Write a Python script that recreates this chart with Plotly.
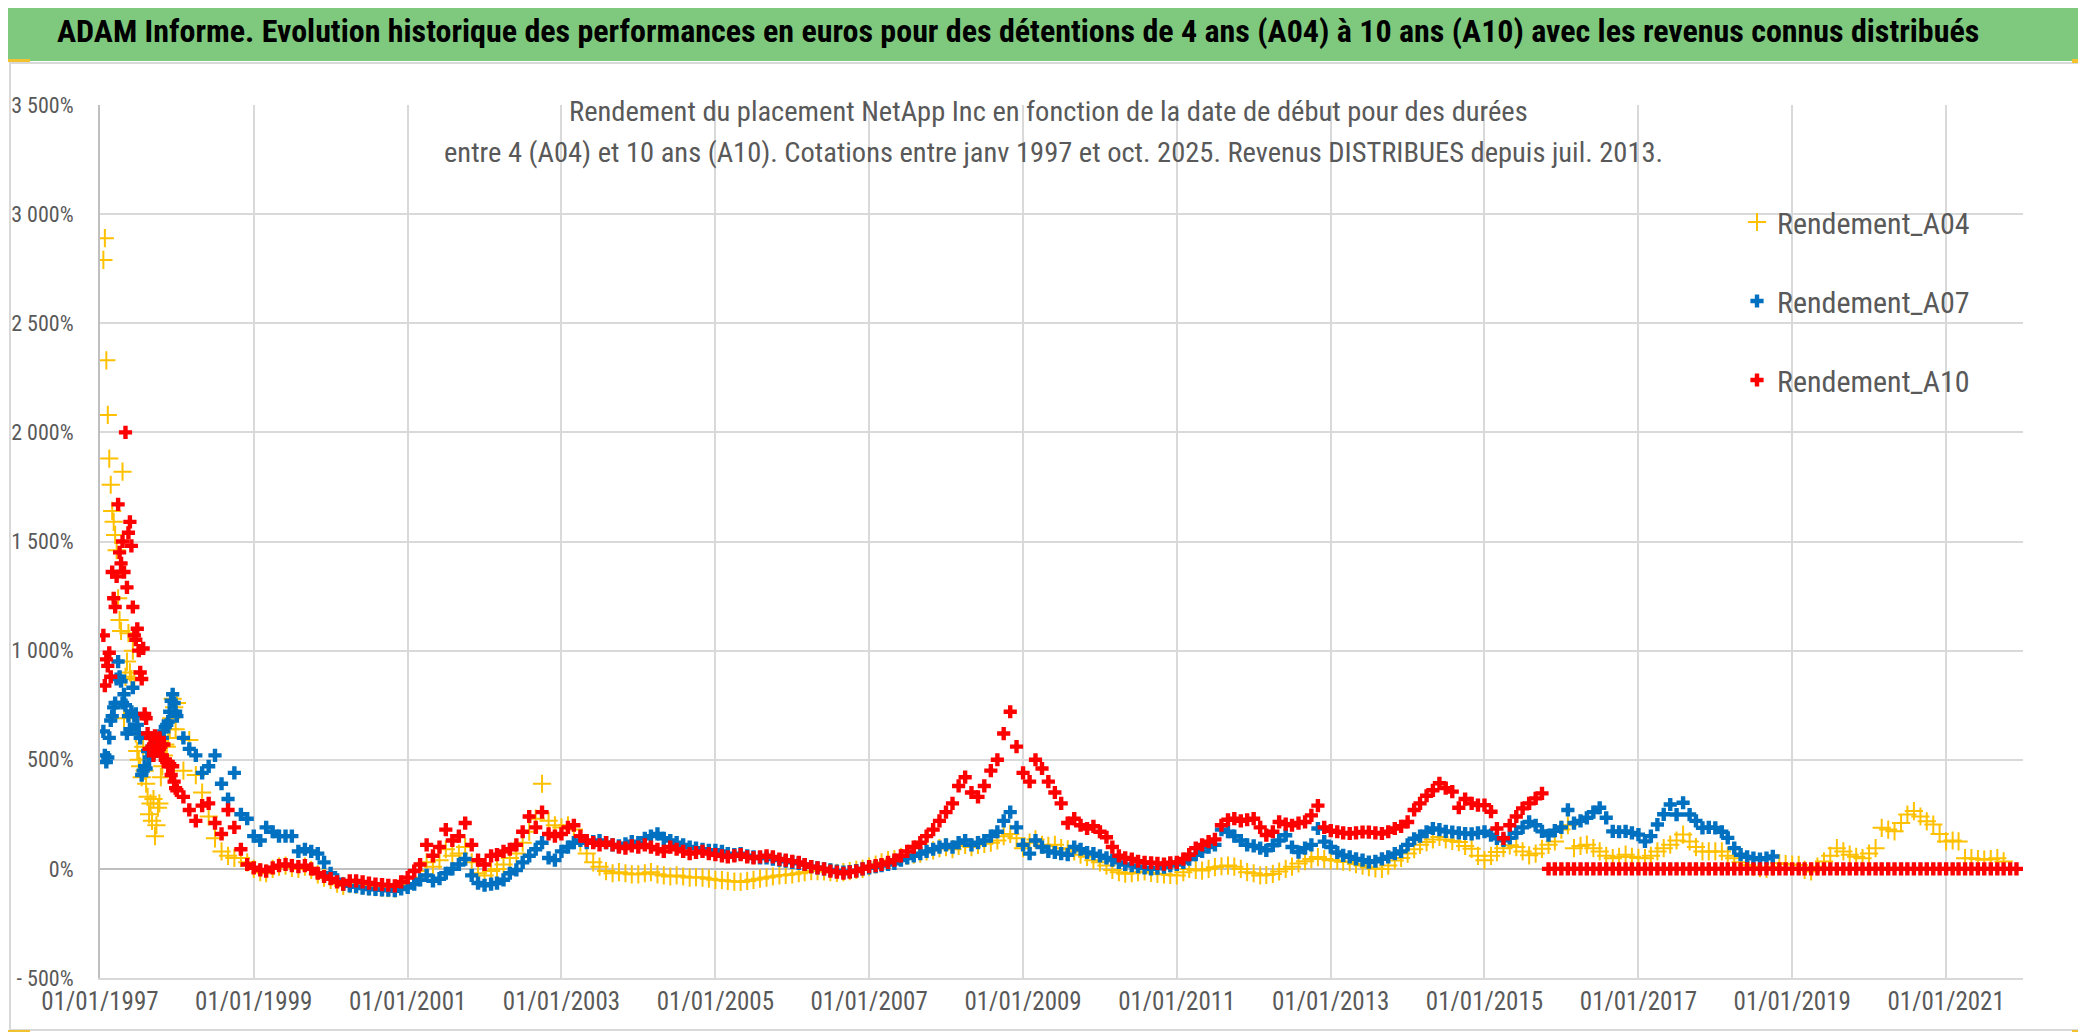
import pandas as pd
import plotly.graph_objects as go

# ---------------- data (values in %) ----------------
SERIES_NAMES = ["Rendement_A04", "Rendement_A07", "Rendement_A10"]

# weekly points during 1997 (start 1997-01-17, every 7 days)
WEEK_START = "1997-01-17"
A04_1997 = [2790, 2890, 2330, 2080, 1880, 1760, 1640, 1590, 1530, 1460,
            1240, 1140, 1090, 1820, 690, 880, 950, 1080, 900, 870,
            1000, 870, 620, 540, 500, 470, 420, 560, 450, 390,
            330, 250, 300, 220, 320, 150, 200, 280, 300, 420,
            470, 520, 570, 560, 600, 640, 690, 780, 740, 640]
A07_1997 = [630, 520, 490, 510, 600, 680, 700, 740, 760, 870,
            950, 880, 860, 760, 800, 750, 620, 700, 640, 720,
            830, 700, 710, 660, 620, 600, 430, 450, 470, 460,
            540, 510, 540, 520, 540, 550, 540, 550, 560, 570,
            600, 630, 650, 660, 675, 720, 770, 800, 760, 720]
A10_1997 = [1070, 840, 960, 930, 990, 880, 1360, 1240, 1200, 1340,
            1670, 1450, 1400, 1500, 1360, 2000, 1290, 1540, 1590, 1480,
            1200, 1070, 1050, 1100, 1000, 900, 870, 1010, 710, 690,
            620, 550, 600, 560, 520, 610, 590, 540, 600, 560,
            520, 570, 500, 490, 470, 480, 430, 470, 400, 370]

# monthly points from 1998-01 (first day of each month)
MONTH_START = "1998-01-01"
A04_MONTHLY = [
    760, 450, 590, 430, 350, 240, 140, 80, 60, 50, 50, 30,            # 1998
    0, -15, -20, 0, 10, 15, 5, 0, 10, -5, -25, -40,                  # 1999
    -50, -68, -78, -70, -72, -76, -80, -84, -86, -88, -90, -75,      # 2000
    -70, -40, -10, 30, 10, 40, 90, 60, 70, 100, 30, -20,             # 2001
    -30, -10, 0, 20, 50, 70, 120, 170, 230, 390, 220, 200,           # 2002
    190, 200, 180, 120, 70, 30, 10, -10, -20, -15, -20, -25,         # 2003
    -25, -20, -15, -25, -30, -35, -30, -35, -40, -38, -40, -45,      # 2004
    -50, -52, -55, -58, -60, -55, -50, -45, -40, -35, -30, -28,      # 2005
    -25, -20, -15, -10, -10, -12, -15, -18, -15, -10, -5, 0,         # 2006
    10, 20, 30, 40, 45, 55, 60, 65, 70, 80, 85, 95,                  # 2007
    100, 90, 105, 110, 100, 110, 115, 120, 130, 150, 160, 140,       # 2008
    95, 120, 135, 110, 105, 110, 95, 90, 80, 65, 55, 40,             # 2009
    30, 15, -5, -15, -22, -20, -15, -12, -18, -23, -25, -28,         # 2010
    -30, -15, 0, -5, -8, 0, 8, 12, 15, 10, 0, -15,                   # 2011
    -20, -30, -28, -23, -12, 0, 10, 25, 35, 45, 54, 45,              # 2012
    40, 38, 33, 31, 22, 15, 8, 2, 0, 15, 38, 50,                     # 2013
    70, 90, 110, 123, 135, 146, 135, 128, 123, 105, 92, 60,          # 2014
    40, 60, 77, 95, 108, 100, 80, 62, 70, 92, 110, 126,              # 2015
    180, 200, 95, 105, 111, 95, 80, 60, 49, 55, 65, 55,              # 2016
    50, 49, 60, 80, 95, 111, 130, 157, 126, 100, 80, 80,             # 2017
    80, 80, 60, 49, 30, 18, 10, 3, 0, 10, 26, 22,                    # 2018
    20, 18, -5, -12, 10, 34, 60, 95, 80, 65, 55, 49,                 # 2019
    70, 95, 188, 180, 172, 210, 249, 265, 240, 218, 203, 160,        # 2020
    126, 130, 126, 49, 49, 45, 42, 45, 49, 34,                       # 2021
]
A07_MONTHLY = [
    700, 600, 550, 520, 440, 470, 520, 390, 320, 440, 250, 230,      # 1998
    150, 130, 190, 170, 150, 150, 150, 80, 90, 80, 70, 30,           # 1999
    -20, -50, -70, -78, -82, -88, -92, -94, -96, -98, -100, -92,     # 2000
    -85, -70, -50, -30, -55, -45, -20, 0, 20, 45, -30, -65,          # 2001
    -75, -70, -65, -50, -20, -5, 30, 60, 90, 120, 50, 40,            # 2002
    80, 100, 120, 130, 120, 125, 130, 120, 110, 105, 115, 125,       # 2003
    120, 140, 150, 160, 140, 130, 120, 110, 100, 95, 90, 85,         # 2004
    85, 80, 70, 65, 70, 60, 55, 50, 50, 45, 40, 35,                  # 2005
    30, 25, 20, 10, 5, 0, -5, -10, -15, -12, -8, 0,                  # 2006
    5, 10, 15, 20, 25, 40, 50, 60, 70, 80, 90, 100,                  # 2007
    110, 100, 120, 130, 110, 120, 130, 150, 170, 220, 260, 190,      # 2008
    110, 70, 130, 100, 80, 75, 70, 65, 100, 90, 75, 70,              # 2009
    60, 50, 40, 30, 20, 15, 10, 5, 0, 3, 8, 15,                      # 2010
    20, 30, 45, 65, 80, 100, 110, 180, 170, 150, 130, 110,           # 2011
    105, 95, 85, 108, 130, 154, 100, 77, 95, 110, 185, 125,          # 2012
    100, 75, 62, 55, 46, 40, 31, 35, 46, 55, 70, 80,                 # 2013
    110, 138, 150, 170, 185, 180, 172, 169, 165, 162, 160, 165,      # 2014
    170, 155, 140, 131, 142, 165, 190, 215, 200, 172, 154, 175,      # 2015
    190, 270, 210, 220, 234, 260, 280, 234, 172, 170, 172, 165,      # 2016
    157, 126, 150, 203, 250, 295, 249, 303, 249, 220, 188, 190,      # 2017
    188, 170, 142, 95, 65, 55, 49, 45, 49, 57,                       # 2018
]
A10_MONTHLY = [
    360, 330, 270, 220, 290, 300, 210, 160, 270, 190, 90, 20,        # 1998
    5, -5, -10, 5, 15, 20, 15, 10, 15, 0, -20, -35,                  # 1999
    -45, -60, -70, -55, -55, -60, -65, -70, -72, -75, -78, -60,      # 2000
    -40, -10, 20, 110, 60, 100, 180, 130, 150, 210, 110, 40,         # 2001
    20, 60, 65, 80, 90, 110, 170, 240, 190, 260, 160, 150,           # 2002
    160, 190, 200, 150, 130, 120, 110, 120, 110, 100, 95, 105,       # 2003
    100, 110, 100, 90, 80, 100, 90, 80, 70, 75, 80, 70,              # 2004
    65, 60, 55, 60, 65, 55, 50, 55, 60, 55, 45, 40,                  # 2005
    35, 30, 20, 10, 5, 0, -10, -15, -20, -15, -10, 0,                # 2006
    10, 15, 20, 30, 40, 60, 80, 100, 120, 150, 180, 220,             # 2007
    260, 300, 380, 420, 350, 330, 380, 450, 500, 620, 720, 560,      # 2008
    440, 400, 500, 460, 400, 350, 300, 210, 230, 200, 185, 195,      # 2009
    170, 145, 100, 60, 50, 45, 35, 30, 28, 25, 22, 28,               # 2010
    30, 45, 65, 95, 110, 125, 135, 200, 225, 230, 220, 225,          # 2011
    230, 190, 155, 170, 215, 205, 200, 210, 215, 245, 290, 190,      # 2012
    175, 170, 165, 162, 165, 169, 168, 165, 162, 170, 185, 195,      # 2013
    215, 270, 300, 335, 360, 392, 370, 354, 280, 320, 300, 292,      # 2014
    292, 262, 185, 140, 200, 240, 277, 300, 323, 346,                # 2015 (Jan-Oct)
    # Nov 2015 -> Dec 2021 : plotted at 0
    0, 0,
    0, 0, 0, 0, 0, 0, 0, 0, 0, 0, 0, 0,
    0, 0, 0, 0, 0, 0, 0, 0, 0, 0, 0, 0,
    0, 0, 0, 0, 0, 0, 0, 0, 0, 0, 0, 0,
    0, 0, 0, 0, 0, 0, 0, 0, 0, 0, 0, 0,
    0, 0, 0, 0, 0, 0, 0, 0, 0, 0, 0, 0,
    0, 0, 0, 0, 0, 0, 0, 0, 0, 0, 0, 0,
]

Y_TICKS = [-500, 0, 500, 1000, 1500, 2000, 2500, 3000, 3500]
Y_TICK_TEXT = ["- 500%", "0%", "500%", "1 000%", "1 500%", "2 000%", "2 500%", "3 000%", "3 500%"]
X_TICK_YEARS = [1997, 1999, 2001, 2003, 2005, 2007, 2009, 2011, 2013, 2015, 2017, 2019, 2021]
X_RANGE = ["1997-01-01", "2022-01-01"]

TITLE = ("ADAM Informe. Evolution historique des performances en euros pour des détentions "
         "de 4 ans (A04) à 10 ans (A10) avec les revenus connus distribués")
SUBTITLE_1 = "Rendement du placement NetApp Inc en fonction de la date de début pour des durées"
SUBTITLE_2 = ("entre 4 (A04) et 10 ans (A10). Cotations entre janv 1997 et oct. 2025. "
              "Revenus DISTRIBUES depuis juil. 2013.")

COLORS = ["#FFC000", "#0070C0", "#FF0000"]

# ---------------- layout geometry ----------------
W, H = 2086, 1032
L, R, T, B = 92, 2015, 97, 970
FONT = "Roboto Condensed, Lato, sans-serif"
GREY = "#595959"


def pxx(x):
    return (x - L) / (R - L)


def pyy(y):
    return (B - y) / (B - T)


def dates_for(weekly, monthly):
    wd = list(pd.date_range(WEEK_START, periods=len(weekly), freq="7D"))
    md = list(pd.date_range(MONTH_START, periods=len(monthly), freq="MS"))
    return wd + md, list(weekly) + list(monthly)


fig = go.Figure()
series = [(A04_1997, A04_MONTHLY), (A07_1997, A07_MONTHLY), (A10_1997, A10_MONTHLY)]
for i, (name, (wk, mo)) in enumerate(zip(SERIES_NAMES, series)):
    x, y = dates_for(wk, mo)
    if i == 0:
        marker = dict(symbol="cross-thin", size=13, line=dict(width=2, color=COLORS[i]), color=COLORS[i])
    else:
        marker = dict(symbol="cross", size=11, color=COLORS[i], line=dict(width=0))
    fig.add_trace(go.Scatter(x=x, y=y, mode="markers", name=name, marker=marker,
                             legendgroup=name, hoverinfo="skip"))

shapes = []
shapes.append(dict(type="rect", xref="paper", yref="paper", x0=pxx(2), x1=pxx(2079), y0=pyy(1022), y1=pyy(55),
                   line=dict(color="#D9D9D9", width=2), fillcolor="rgba(0,0,0,0)", layer="below"))
shapes.append(dict(type="rect", xref="paper", yref="paper", x0=pxx(0), x1=pxx(W), y0=pyy(53), y1=pyy(-5),
                   line=dict(width=0), fillcolor="#7FC97F", layer="below"))
shapes.append(dict(type="rect", xref="paper", yref="paper", x0=pxx(432), x1=pxx(1652), y0=pyy(166), y1=pyy(85),
                   line=dict(width=0), fillcolor="white", layer="between"))
shapes.append(dict(type="rect", xref="paper", yref="paper", x0=pxx(1702), x1=pxx(2016), y0=pyy(421), y1=pyy(182),
                   line=dict(width=0), fillcolor="white", layer="between"))
for (x0, x1, y0, y1) in [(0, 22, 1022, 1030), (0, 22, 51, 54), (2064, 2086, 1022, 1030),
                         (2079, 2086, 967, 1032), (2064, 2086, 51, 55), (2079, 2086, 51, 68)]:
    shapes.append(dict(type="rect", xref="paper", yref="paper", x0=pxx(x0), x1=pxx(x1), y0=pyy(y1), y1=pyy(y0),
                       line=dict(width=0), fillcolor="#F2C12E", layer="above"))

annotations = [
    dict(text="<b>" + TITLE + "</b>", xref="paper", yref="paper", x=pxx(1010), y=pyy(23),
         xanchor="center", yanchor="middle", showarrow=False, font=dict(family=FONT, size=32, color="black")),
    dict(text=SUBTITLE_1, xref="paper", yref="paper", x=pxx(1040), y=pyy(104),
         xanchor="center", yanchor="middle", showarrow=False,
         font=dict(family=FONT, size=28.5, color=GREY)),
    dict(text=SUBTITLE_2, xref="paper", yref="paper", x=pxx(1045), y=pyy(144),
         xanchor="center", yanchor="middle", showarrow=False,
         font=dict(family=FONT, size=28.5, color=GREY)),
]

fig.update_layout(
    width=W, height=H,
    margin=dict(l=L, r=W - R, t=T, b=H - B, autoexpand=False),
    paper_bgcolor="white", plot_bgcolor="white",
    shapes=shapes, annotations=annotations,
    showlegend=True,
    legend=dict(x=pxx(1729), y=pyy(188), xanchor="left", yanchor="top",
                bgcolor="rgba(0,0,0,0)", font=dict(family=FONT, size=30, color=GREY),
                tracegroupgap=37, itemsizing="trace"),
    xaxis=dict(type="date", range=X_RANGE,
               tickvals=[f"{yr}-01-01" for yr in X_TICK_YEARS],
               ticktext=[f"01/01/{yr}" for yr in X_TICK_YEARS],
               showgrid=True, gridcolor="#D9D9D9", gridwidth=1.5,
               showline=True, linecolor="#D9D9D9", linewidth=2,
               ticks="", ticklabelstandoff=0,
               tickfont=dict(family=FONT, size=25, color=GREY), zeroline=False),
    yaxis=dict(range=[-500, 3500], tickvals=Y_TICKS, ticktext=Y_TICK_TEXT,
               showgrid=True, gridcolor="#D9D9D9", gridwidth=1.5,
               showline=True, linecolor="#BFBFBF", linewidth=2,
               zeroline=True, zerolinecolor="#BFBFBF", zerolinewidth=2,
               ticks="", ticklabelstandoff=20,
               tickfont=dict(family=FONT, size=22, color=GREY)),
)

fig.write_html("out.html")
